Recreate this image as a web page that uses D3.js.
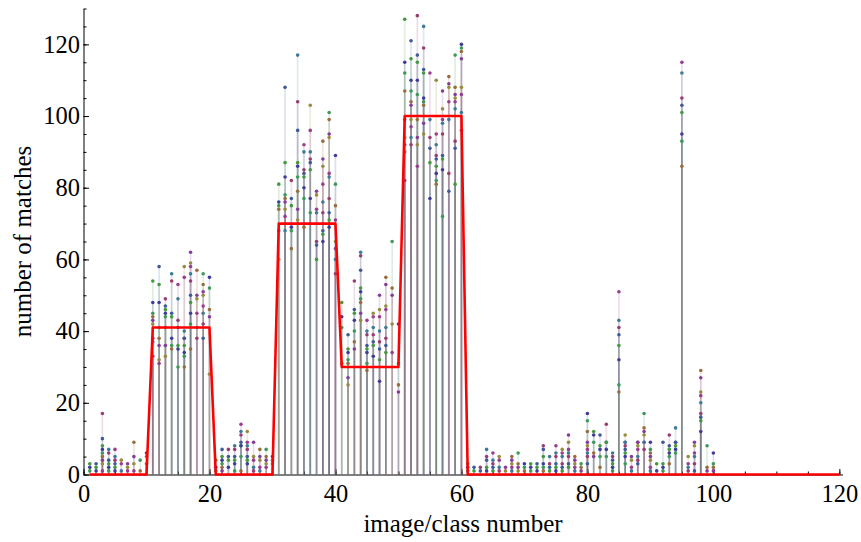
<!DOCTYPE html>
<html lang="en">
<head>
    <meta charset="UTF-8">
    <title>Number of matches per image</title>
    <script src="https://d3js.org/d3.v7.min.js"></script>
    <style>
        body { margin: 0; background: #fff; }
    </style>
</head>
<body>
    <div id="chart"></div>
    <script>
        // matches found for each image, grouped by class (10 images per class)
        const matchesClass1 = [[3,2,1],[3,2,1],[17,10,8,7,6,5,4,3,1],[7,6,4,3,2,1],[7,5,4,3,2,1],
            [4,3,1],[3,2,1],[9,5,3,1],[4,1],[6,5,3]];
        const matchesClass2 = [[54,48,45,44,43,42,38,37,33],[58,53,48,41,38,36,32,31],[49,47,46,45,44,41,36,33],
            [56,54,45,44,38,36,35],[53,49,43,41,36,35,30],[58,55,40,38,38,36,34,33,30],
            [62,59,58,56,54,50,48,45,42,35],[57,50,49,45,41,38],[56,53,51,50,47,45,42,38],[55,52,46,44,28]];
        const matchesClass3 = [[4,2,1],[7,5,4,3,2,1],[7,5,4,2],[8,7,5,4,3,1],[14,12,11,9,8,8,5,1],
            [12,9,8,7,5,4,3],[9,5,4,2,1],[7,5,4,2,1],[7,5,4,3,2],[5,4,3]];
        const matchesClass4 = [[81,76,75,74,68,60],[108,87,83,78,77,76,74,72,68],[82,77,75,69,68,63],
            [117,104,96,87,86,83,79,74,71],[92,90,85,84,83,80,77,69],[103,96,90,88,87,85,77,73],
            [79,78,74,73,65,64,60],[93,88,86,81,76,73,68,67,65],[101,99,95,94,84,83,77,73,71,69],
            [89,81,75,71,65,63,60,56]];
        const matchesClass5 = [[48,44,41,31],[39,35,34,32,31,27,25],[54,46,45,43,40,37,35],
            [62,61,57,52,51,49,48,45,43],[43,40,39,36,35,34,31,29],[45,44,41,39,37,36,33],
            [50,46,44,40,37,35,32,26],[55,53,47,46,41,38,36,34],[65,52,50,42,34],[42,31,25,23]];
        const matchesClass6 = [[127,115,112,107,99,94,92,90,82],[121,116,110,107,104,103,99,97,94,92],
            [128,117,115,110,106,99,94,92,86],[125,119,113,112,105,104,103,98,95],[112,99,94,91,87,77],
            [110,95,92,89,88,86,84,82,81],[107,102,99,98,95,89,88,85,72],[111,109,108,104,99,84,79],
            [117,108,106,105,104,102,93,91,81],[120,119,118,116,108,106,101,96]];
        const matchesClass7 = [[3,2,1],[2,1],[2,1],[7,5,4,2,1],[6,4,3,2,1],[5,4,2,1],[2,1],
            [5,4,3,2,1],[6,3,2,1],[3,2,1]];
        const matchesClass8 = [[3,2,1],[3,2,1],[8,7,5,3,2,1],[5,3,2,1],[8,6,5,3,2,1],[7,6,5,3,2,1],
            [11,9,7,6,5,3,2],[5,4,3,2,1],[3,2,1],[17,15,12,9,8,7,6,5,3]];
        const matchesClass9 = [[12,11,9,6,5],[11,8,7,5,2],[14,9,9,7,5],[6,5,4,3,2,1],
            [51,43,41,39,36,32,25,23],[11,9,9,8,7,6,5,3],[5,4,2,1],[9,9,8,7,5,4,3],
            [17,13,12,11,9,9,7],[9,7,6,5,4,2,1]];
        const matchesClass10 = [[3,1],[9,3,2,1],[11,8,7,6,5,3],[13,9,9,8,7,6],
            [115,112,105,103,101,95,93,86],[5,3,2,1],[9,8,6,5,3,1],[29,27,23,22,20,17,16,15,12],
            [8,2,1],[6,3,2,1]];

        // true number of matches for each class of 10 images (x = 1..120)
        const classTruth = [0, 41, 0, 70, 30, 100, 0, 0, 0, 0, 0, 0];

        const xTicks = [0, 20, 40, 60, 80, 100, 120];
        const yTicks = [0, 20, 40, 60, 80, 100, 120];

        // Mathematica-style default plot colours
        const seriesColors = ["#3f3d99", "#993d71", "#998b3d", "#3d9956", "#3d5a99",
                              "#993d90", "#996d3d", "#43993d", "#3d7999", "#843d99"];

        const width = 861;
        const height = 542;
        const serif = "'Liberation Serif', 'Times New Roman', serif";

        const allClasses = [matchesClass1, matchesClass2, matchesClass3, matchesClass4, matchesClass5,
                            matchesClass6, matchesClass7, matchesClass8, matchesClass9, matchesClass10];

        const points = [];
        allClasses.flat().forEach((vals, i) => {
            const img = i + 1;
            vals.forEach((v, j) => points.push({ x: img, y: v, s: (j * 3 + img * 7) % 10 }));
        });

        const truthLine = d3.range(1, 121).map(i => ({ x: i, y: classTruth[Math.floor((i - 1) / 10)] }));

        const x = d3.scaleLinear().domain([0, 120.5]).range([83.5, 842.5]);
        const y = d3.scaleLinear().domain([0, 130]).range([474.5, 8.5]);

        const svg = d3.select("#chart").append("svg")
            .attr("width", width)
            .attr("height", height);

        // axes (ticks point inward)
        svg.append("g")
            .attr("transform", `translate(0,${y(0)})`)
            .call(d3.axisBottom(x).tickValues(d3.range(0, 121, 5)).tickSize(-3).tickSizeOuter(0).tickFormat(""));
        svg.append("g")
            .attr("transform", `translate(0,${y(0)})`)
            .call(d3.axisBottom(x).tickValues(xTicks).tickSize(-5.5).tickSizeOuter(0).tickPadding(10))
            .call(g => g.select(".domain").remove());

        svg.append("g")
            .attr("transform", `translate(${x(0)},0)`)
            .call(d3.axisLeft(y).tickValues(d3.range(0, 131, 5)).tickSize(-3).tickSizeOuter(0).tickFormat(""));
        svg.append("g")
            .attr("transform", `translate(${x(0)},0)`)
            .call(d3.axisLeft(y).tickValues(yTicks).tickSize(-5.5).tickSizeOuter(0).tickPadding(3.5))
            .call(g => g.select(".domain").remove());

        svg.selectAll(".tick text")
            .style("font-family", serif)
            .style("font-size", "24.5px")
            .attr("fill", "#000");

        // stems
        svg.append("g")
            .selectAll("line")
            .data(points)
            .join("line")
            .attr("x1", d => x(d.x))
            .attr("x2", d => x(d.x))
            .attr("y1", d => y(d.y))
            .attr("y2", y(0))
            .attr("stroke", d => seriesColors[d.s])
            .attr("stroke-opacity", 0.17)
            .attr("stroke-width", 1.7);

        // points
        svg.append("g")
            .selectAll("circle")
            .data(points)
            .join("circle")
            .attr("cx", d => x(d.x))
            .attr("cy", d => y(d.y))
            .attr("r", 1.8)
            .attr("fill", d => seriesColors[d.s]);

        // true value per class
        svg.append("path")
            .datum(truthLine)
            .attr("fill", "none")
            .attr("stroke", "#ff0000")
            .attr("stroke-width", 2.6)
            .attr("stroke-linejoin", "round")
            .attr("d", d3.line().x(d => x(d.x)).y(d => y(d.y)));

        svg.append("text")
            .attr("x", (x(0) + x(120.5)) / 2)
            .attr("y", 532)
            .attr("text-anchor", "middle")
            .style("font-family", serif)
            .style("font-size", "25px")
            .text("image/class number");

        svg.append("text")
            .attr("transform", `translate(31,${(y(0) + y(130)) / 2}) rotate(-90)`)
            .attr("text-anchor", "middle")
            .style("font-family", serif)
            .style("font-size", "25px")
            .text("number of matches");
    </script>
</body>
</html>
